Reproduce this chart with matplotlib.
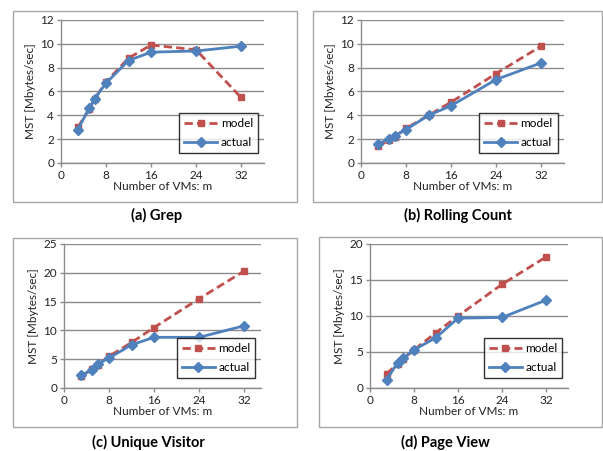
import matplotlib
matplotlib.use("Agg")
import matplotlib.pyplot as plt
from matplotlib.patches import Rectangle

plt.rcParams["font.family"] = ["Lato", "DejaVu Sans"]

W, H = 603, 451

vms = [3, 5, 6, 8, 12, 16, 24, 32]
x_ticks = [0, 8, 16, 24, 32]

grep_model = [3.0, 4.5, 5.4, 6.8, 8.8, 9.9, 9.5, 5.5]
grep_actual = [2.8, 4.6, 5.4, 6.7, 8.6, 9.3, 9.4, 9.8]

rolling_model = [1.4, 1.9, 2.2, 2.9, 4.0, 5.1, 7.5, 9.8]
rolling_actual = [1.6, 2.0, 2.3, 2.8, 4.0, 4.8, 7.0, 8.4]

visitor_model = [2.0, 3.3, 4.0, 5.5, 7.9, 10.5, 15.5, 20.3]
visitor_actual = [2.2, 3.1, 4.2, 5.2, 7.5, 8.8, 8.8, 10.8]

page_model = [2.0, 3.3, 4.0, 5.3, 7.7, 10.0, 14.4, 18.2]
page_actual = [1.1, 3.5, 4.1, 5.3, 7.0, 9.7, 9.8, 12.2]

titles = ["(a) Grep", "(b) Rolling Count", "(c) Unique Visitor", "(d) Page View"]

# panel layout in pixels: axes box (l, r, top, bottom), frame box, title centre, y range/step, xmax
panels = [
    dict(ax=(61, 263.5, 20, 163), frame=(13, 297, 11, 202), title=(157, 215),
         model=grep_model, actual=grep_actual, ymax=12, ystep=2, xmax=36),
    dict(ax=(361, 563.5, 20, 163), frame=(313, 602, 11, 202), title=(458, 215),
         model=rolling_model, actual=rolling_actual, ymax=12, ystep=2, xmax=36),
    dict(ax=(64, 261, 244, 388), frame=(13, 297, 238, 427), title=(148, 442),
         model=visitor_model, actual=visitor_actual, ymax=25, ystep=5, xmax=35),
    dict(ax=(370, 568, 244, 388), frame=(319, 602, 237, 427), title=(445, 442),
         model=page_model, actual=page_actual, ymax=20, ystep=5, xmax=36),
]

RED = "#C0504D"
BLUE = "#4F81BD"
GRID = "#8C8C8C"
FS = 8.5

fig = plt.figure(figsize=(W / 100, H / 100), dpi=100)

for p, title in zip(panels, titles):
    fl, fr, ft, fb = p["frame"]
    fig.patches.append(Rectangle((fl / W, 1 - fb / H), (fr - fl) / W, (fb - ft) / H,
                                 transform=fig.transFigure, fill=False,
                                 edgecolor="#A6A6A6", linewidth=1.0))
    l, r, t, b = p["ax"]
    ax = fig.add_axes([l / W, 1 - b / H, (r - l) / W, (b - t) / H])
    ax.plot(vms, p["model"], color=RED, linestyle=(0, (3, 1.5)), linewidth=2.0,
            marker="s", markersize=5, label="model", zorder=3)
    ax.plot(vms, p["actual"], color=BLUE, linestyle="-", linewidth=2.0,
            marker="D", markersize=5, label="actual", zorder=4)
    ax.set_xlim(0, p["xmax"])
    ax.set_ylim(0, p["ymax"])
    ax.set_xticks(x_ticks)
    ax.set_yticks(range(0, p["ymax"] + 1, p["ystep"]))
    ax.yaxis.grid(True, color=GRID, linewidth=1.0)
    ax.set_axisbelow(True)
    for s in ("top", "right"):
        ax.spines[s].set_visible(False)
    for s in ("left", "bottom"):
        ax.spines[s].set_color(GRID)
        ax.spines[s].set_linewidth(1.0)
    ax.tick_params(axis="both", labelsize=FS, color=GRID, length=3, width=1,
                   pad=2, labelcolor="#222222")
    ax.set_xlabel("Number of VMs: m", fontsize=FS, labelpad=0, color="#222222")
    ax.set_ylabel("MST [Mbytes/sec]", fontsize=FS, labelpad=3, color="#222222")
    leg = ax.legend(loc="lower right", bbox_to_anchor=(1.0, 0.03), fontsize=FS,
                    frameon=True, fancybox=False, handlelength=2.8,
                    handletextpad=0.3, borderpad=0.4, labelspacing=0.7)
    leg.get_frame().set_edgecolor("black")
    leg.get_frame().set_linewidth(1.0)
    tx, ty = p["title"]
    fig.text(tx / W, 1 - ty / H, title, ha="center", va="center",
             fontsize=10.5, fontweight="bold")

fig.savefig("out.png", dpi=100)
